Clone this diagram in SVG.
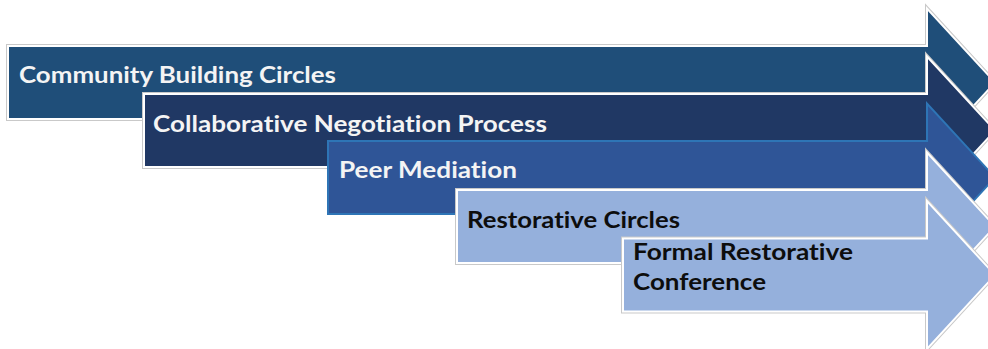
<svg xmlns="http://www.w3.org/2000/svg" xmlns:xlink="http://www.w3.org/1999/xlink" width="988" height="349" viewBox="0 0 988 349">
<style>
.halo{fill:none;stroke:#c9c9c9;stroke-width:4;stroke-linejoin:miter}
.edge{stroke:#ffffff;stroke-width:2;stroke-linejoin:miter}
.lbl{font-family:Lato,"Open Sans","Liberation Sans",sans-serif;font-weight:700;font-size:23px;font-variant-ligatures:none;font-feature-settings:"liga" 0}
.w{fill:#f4f4f4}
.k{fill:#0d0d0d}
</style>
<defs>
<path id="a1" d="M8 46 H927 V8.5 L995 82.5 L927 156.5 V119 H8 Z"/>
<path id="a2" d="M144 94 H927 V56.5 L995 130.5 L927 204.5 V167 H144 Z"/>
<path id="a3" d="M328 141 H927 V103.5 L995 177.5 L927 251.5 V214 H328 Z"/>
<path id="a4" d="M457 190 H927 V152.5 L995 226.5 L927 300.5 V263 H457 Z"/>
<path id="a5" d="M623 238.5 H927 V201 L995 275 L927 349 V311.5 H623 Z"/>
</defs>
<rect width="988" height="349" fill="#ffffff"/>
<g id="node-community-building-circles">
<use xlink:href="#a1" class="halo"/>
<use xlink:href="#a1" class="edge" fill="#1f4e79"/>
<text class="lbl w" x="19" y="83" textLength="317" lengthAdjust="spacingAndGlyphs">Community Building Circles</text>
</g>
<g id="node-collaborative-negotiation-process">
<use xlink:href="#a2" class="halo"/>
<use xlink:href="#a2" class="edge" fill="#203864"/>
<text class="lbl w" x="153" y="132" textLength="394" lengthAdjust="spacingAndGlyphs">Collaborative Negotiation Process</text>
</g>
<g id="node-peer-mediation">
<use xlink:href="#a3" fill="#2f5597" stroke="#2e75b6" stroke-width="2"/>
<text class="lbl w" x="339" y="178" textLength="178" lengthAdjust="spacingAndGlyphs">Peer Mediation</text>
</g>
<g id="node-restorative-circles">
<use xlink:href="#a4" class="halo"/>
<use xlink:href="#a4" class="edge" fill="#95b0dc"/>
<text class="lbl k" x="467" y="228" textLength="213" lengthAdjust="spacingAndGlyphs">Restorative Circles</text>
</g>
<g id="node-formal-restorative-conference">
<use xlink:href="#a5" class="halo"/>
<use xlink:href="#a5" class="edge" fill="#95b0dc"/>
<text class="lbl k" x="633" y="260" textLength="220" lengthAdjust="spacingAndGlyphs">Formal Restorative</text>
<text class="lbl k" x="633" y="290" textLength="133" lengthAdjust="spacingAndGlyphs">Conference</text>
</g>
<g id="connectors"/>
</svg>
